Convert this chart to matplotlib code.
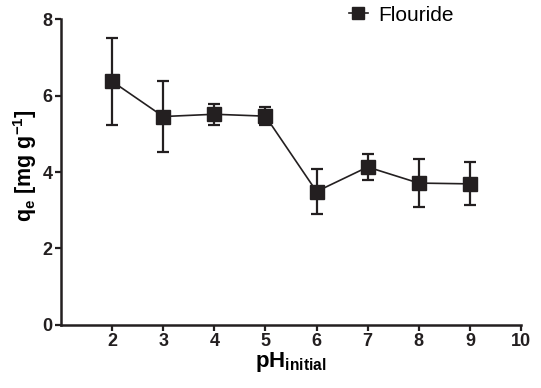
import matplotlib
matplotlib.use('Agg')
import matplotlib.pyplot as plt

plt.rcParams['font.family'] = ['Liberation Sans', 'DejaVu Sans']
plt.rcParams['mathtext.fontset'] = 'custom'
plt.rcParams['mathtext.rm'] = 'Liberation Sans:bold'
plt.rcParams['mathtext.bf'] = 'Liberation Sans:bold'
plt.rcParams['mathtext.default'] = 'bf'

# data
ph = [2, 3, 4, 5, 6, 7, 8, 9]
qe = [6.37, 5.45, 5.51, 5.46, 3.49, 4.13, 3.71, 3.69]
err = [1.13, 0.93, 0.27, 0.24, 0.60, 0.33, 0.63, 0.56]
xticks = [2, 3, 4, 5, 6, 7, 8, 9, 10]
yticks = [0, 2, 4, 6, 8]

fig = plt.figure(figsize=(5.41, 3.88), dpi=100)
ax = fig.add_axes([0.1128, 0.1624, 0.963 - 0.1128, 0.951 - 0.1624])

eb = ax.errorbar(ph, qe, yerr=err, color='#231f20', marker='s', markersize=9.5,
                 lw=1.2, elinewidth=1.6, capsize=4.5, capthick=1.6)

ax.set_xlim(1, 10)
ax.set_ylim(0, 8)
ax.set_xticks(xticks)
ax.set_yticks(yticks)
for s in ('top', 'right'):
    ax.spines[s].set_visible(False)
for s in ('left', 'bottom'):
    ax.spines[s].set_linewidth(1.8)
    ax.spines[s].set_color('#231f20')
ax.tick_params(direction='out', length=4, width=1.6, colors='#231f20',
               labelsize=13, pad=2)
for lab in ax.get_xticklabels() + ax.get_yticklabels():
    lab.set_fontweight('bold')

ax.set_xlabel(r'pH$_{initial}$', fontsize=16, fontweight='bold', labelpad=0)
ax.set_ylabel(r'q$_e$ [mg g$^{-1}$]', fontsize=15.5, fontweight='bold')
ax.yaxis.set_label_coords(-0.048, 0.52)

ax.legend(handles=[eb.lines[0]], labels=['Flouride'], loc='upper left',
          bbox_to_anchor=(0.585, 1.105), frameon=False, fontsize=15,
          handlelength=0.9, handletextpad=0.5, numpoints=1, markerscale=0.85)

fig.savefig('out.png', dpi=100, facecolor='white')
